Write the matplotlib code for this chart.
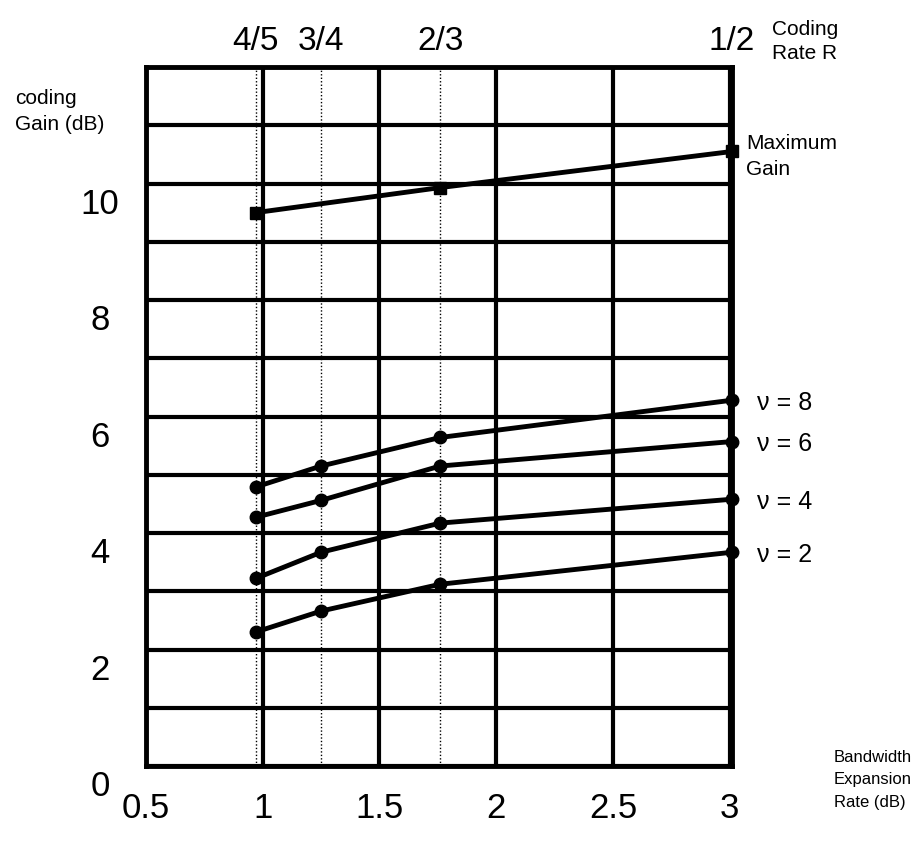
import matplotlib
matplotlib.use("Agg")
import matplotlib.pyplot as plt
import matplotlib.transforms as mtransforms

# coding rates and the bandwidth expansion they give (dB)
rates = ["4/5", "3/4", "2/3", "1/2"]
expansion = [0.97, 1.25, 1.76, 3.01]

# maximum gain curve (points at 4/5, 2/3, 1/2)
max_x = [0.97, 1.76, 3.01]
max_gain = [9.50, 9.93, 10.55]

# coding gain per constraint length
nu_labels = ["\u03bd = 8", "\u03bd = 6", "\u03bd = 4", "\u03bd = 2"]
nu_gain = [
    [4.79, 5.15, 5.64, 6.28],
    [4.27, 4.56, 5.15, 5.57],
    [3.22, 3.67, 4.17, 4.58],
    [2.30, 2.66, 3.12, 3.67],
]

x_ticks = [0.5, 1, 1.5, 2, 2.5, 3]
y_ticks = list(range(13))
y_labels = ["0", "", "2", "", "4", "", "6", "", "8", "", "10", "", ""]

plt.rcParams["font.family"] = ["Liberation Sans", "DejaVu Sans"]

fig = plt.figure(figsize=(9.17, 8.45), dpi=100)
ax = fig.add_axes([0.1592, 0.0923, 0.639, 0.8272])

ax.set_xlim(0.5, 3.01)
ax.set_ylim(0, 12)

ax.set_xticks(x_ticks)
ax.set_xticklabels([str(t) for t in x_ticks])
ax.set_yticks(y_ticks)
ax.set_yticklabels(y_labels)
ax.tick_params(axis="both", length=0, labelsize=25)
ax.tick_params(axis="x", pad=18)
ax.tick_params(axis="y", pad=33)

# y labels sit a little below their grid lines, centred
offset = mtransforms.ScaledTranslation(0, -0.16, fig.dpi_scale_trans)
for lab in ax.get_yticklabels():
    lab.set_horizontalalignment("center")
    lab.set_transform(lab.get_transform() + offset)

ax.grid(True, color="black", linewidth=3)
ax.set_axisbelow(True)
for sp in ax.spines.values():
    sp.set_linewidth(3.5)

# dotted lines at the coding-rate positions
for xv in expansion[:3]:
    ax.axvline(xv, color="black", linestyle=(0, (1, 1.5)), linewidth=1, zorder=1)

# top axis with coding rates
top = ax.secondary_xaxis("top")
top.set_xticks(expansion)
top.set_xticklabels(rates)
top.tick_params(length=0, labelsize=24, pad=8)

# curves
ax.plot(max_x, max_gain, color="black", linewidth=3.5, marker="s", markersize=8,
        zorder=3, clip_on=False)
for g in nu_gain:
    ax.plot(expansion, g, color="black", linewidth=3.5, marker="o", markersize=9,
            zorder=3, clip_on=False)

# curve labels on the right
for lab, g in zip(nu_labels, nu_gain):
    ax.annotate(lab, xy=(expansion[-1], g[-1]), xytext=(18, -1), textcoords="offset points",
                fontsize=18, va="center", ha="left", annotation_clip=False)
ax.annotate("Maximum\nGain", xy=(expansion[-1], max_gain[-1]), xytext=(10, -3),
            textcoords="offset points", fontsize=15, va="center", ha="left",
            linespacing=1.45, annotation_clip=False)

fig.text(0.842, 0.951, "Coding\nRate R", fontsize=15, va="center", ha="left", linespacing=1.35)
fig.text(0.016, 0.868, "coding\nGain (dB)", fontsize=15, va="center", ha="left", linespacing=1.5)
fig.text(0.909, 0.077, "Bandwidth\nExpansion\nRate (dB)", fontsize=12, va="center", ha="left",
         linespacing=1.6)

fig.savefig("out.png", dpi=100)
